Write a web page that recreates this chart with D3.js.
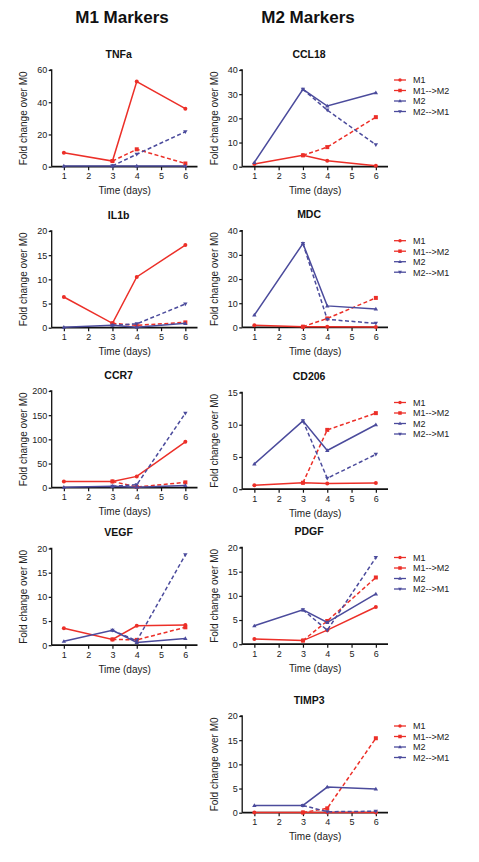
<!DOCTYPE html>
<html><head><meta charset="utf-8">
<script src="https://cdn.jsdelivr.net/npm/d3@7"></script>
<style>
html,body{margin:0;padding:0;background:#fff;}
svg{display:block;font-family:"Liberation Sans",Arial,Helvetica,sans-serif;}
</style></head>
<body><svg id="c" width="479" height="862"></svg>
<script>
// ---- data ----
const days = [1, 3, 4, 6];
const xTicks = [1, 2, 3, 4, 5, 6];
const seriesNames = ["M1", "M1-->M2", "M2", "M2-->M1"];
const columnTitles = ["M1 Markers", "M2 Markers"];

const tnfa_M1   = [8.7, 3.5, 52.8, 36.0];
const tnfa_M1M2 = [null, 3.5, 10.8, 2.0];
const tnfa_M2   = [0.4, 0.5, 0.5, 0.5];
const tnfa_M2M1 = [null, 0.5, 7.7, 21.7];
const tnfa_ticks = [0, 20, 40, 60];

const il1b_M1   = [6.35, 0.9, 10.5, 17.1];
const il1b_M1M2 = [null, 0.9, 0.5, 1.1];
const il1b_M2   = [0.1, 0.5, 0.1, 0.9];
const il1b_M2M1 = [null, 0.5, 0.8, 4.9];
const il1b_ticks = [0, 5, 10, 15, 20];

const ccr7_M1   = [13, 13, 23.4, 95];
const ccr7_M1M2 = [null, 13, 1.5, 11];
const ccr7_M2   = [1, 3, 1, 4.5];
const ccr7_M2M1 = [null, 3, 6, 154];
const ccr7_ticks = [0, 50, 100, 150, 200];

const vegf_M1   = [3.5, 1.2, 4.0, 4.2];
const vegf_M1M2 = [null, 1.2, 1.1, 3.7];
const vegf_M2   = [0.8, 3.1, 0.55, 1.4];
const vegf_M2M1 = [null, 3.1, 0.9, 18.7];
const vegf_ticks = [0, 5, 10, 15, 20];

const ccl18_M1   = [1.1, 4.7, 2.5, 0.4];
const ccl18_M1M2 = [null, 4.7, 8.1, 20.5];
const ccl18_M2   = [1.8, 32, 25.1, 30.6];
const ccl18_M2M1 = [null, 32, 23.4, 9.1];
const ccl18_ticks = [0, 10, 20, 30, 40];

const mdc_M1   = [0.9, 0.3, 0.3, 0.2];
const mdc_M1M2 = [null, 0.3, 3.7, 12.2];
const mdc_M2   = [5.1, 34.7, 8.9, 7.6];
const mdc_M2M1 = [null, 34.7, 3.3, 1.7];
const mdc_ticks = [0, 10, 20, 30, 40];

const cd206_M1   = [0.6, 1.0, 0.88, 0.97];
const cd206_M1M2 = [null, 1.0, 9.2, 11.8];
const cd206_M2   = [3.9, 10.6, 6.0, 10.0];
const cd206_M2M1 = [null, 10.6, 1.7, 5.4];
const cd206_ticks = [0, 5, 10, 15];

const pdgf_M1   = [1.1, 0.75, 2.9, 7.7];
const pdgf_M1M2 = [null, 0.75, 4.8, 13.8];
const pdgf_M2   = [3.8, 7.1, 4.5, 10.4];
const pdgf_M2M1 = [null, 7.1, 2.9, 17.9];
const pdgf_ticks = [0, 5, 10, 15, 20];

const timp3_M1   = [0.05, 0.05, 0.05, 0.05];
const timp3_M1M2 = [null, 0.05, 0.9, 15.4];
const timp3_M2   = [1.5, 1.5, 5.3, 4.9];
const timp3_M2M1 = [null, 1.5, 0.2, 0.3];
const timp3_ticks = [0, 5, 10, 15, 20];

// ---- layout ----
const RED = "#ec2f28", BLUE = "#4b4b9c";
const styles = [
  {color: RED, dash: null, marker: "circle"},
  {color: RED, dash: "4,2.5", marker: "square"},
  {color: BLUE, dash: null, marker: "tri"},
  {color: BLUE, dash: "4,2.5", marker: "triDown"}
];
const colX = [51.7, 242.2];
const plotW = 145.8, plotH = 96.7;

const panels = [
  {title: "TNFa", col: 0, top: 70, ticks: tnfa_ticks, s: [tnfa_M1, tnfa_M1M2, tnfa_M2, tnfa_M2M1], legend: false},
  {title: "IL1b", col: 0, top: 231, ticks: il1b_ticks, s: [il1b_M1, il1b_M1M2, il1b_M2, il1b_M2M1], legend: false},
  {title: "CCR7", col: 0, top: 391, ticks: ccr7_ticks, s: [ccr7_M1, ccr7_M1M2, ccr7_M2, ccr7_M2M1], legend: false},
  {title: "VEGF", col: 0, top: 548.5, ticks: vegf_ticks, s: [vegf_M1, vegf_M1M2, vegf_M2, vegf_M2M1], legend: false},
  {title: "CCL18", col: 1, top: 70, ticks: ccl18_ticks, s: [ccl18_M1, ccl18_M1M2, ccl18_M2, ccl18_M2M1], legend: true},
  {title: "MDC", col: 1, top: 230.7, ticks: mdc_ticks, s: [mdc_M1, mdc_M1M2, mdc_M2, mdc_M2M1], legend: true},
  {title: "CD206", col: 1, top: 392.5, ticks: cd206_ticks, s: [cd206_M1, cd206_M1M2, cd206_M2, cd206_M2M1], legend: true},
  {title: "PDGF", col: 1, top: 547.5, ticks: pdgf_ticks, s: [pdgf_M1, pdgf_M1M2, pdgf_M2, pdgf_M2M1], legend: true},
  {title: "TIMP3", col: 1, top: 716, ticks: timp3_ticks, s: [timp3_M1, timp3_M1M2, timp3_M2, timp3_M2M1], legend: true}
];

const svg = d3.select("#c");

// column headers
svg.selectAll("text.hdr").data(columnTitles).join("text")
  .attr("class", "hdr")
  .attr("x", (d, i) => [122, 308][i]).attr("y", 23)
  .attr("text-anchor", "middle").attr("font-weight", "bold")
  .attr("font-size", 17).attr("fill", "#111").text(d => d);

function marker(g, type, x, y, color, sz) {
  if (type === "circle") {
    g.append("circle").attr("cx", x).attr("cy", y).attr("r", sz * 0.5).attr("fill", color);
  } else if (type === "square") {
    g.append("rect").attr("x", x - sz * 0.5).attr("y", y - sz * 0.5).attr("width", sz).attr("height", sz).attr("fill", color);
  } else if (type === "tri") {
    const h = sz * 0.55;
    g.append("path").attr("d", `M${x},${y - h}L${x + h},${y + h * 0.7}L${x - h},${y + h * 0.7}Z`).attr("fill", color);
  } else {
    const h = sz * 0.55;
    g.append("path").attr("d", `M${x},${y + h}L${x + h},${y - h * 0.7}L${x - h},${y - h * 0.7}Z`).attr("fill", color);
  }
}

panels.forEach(p => {
  const left = colX[p.col];
  const x = d3.scaleLinear().domain([0.5, 6.5]).range([left, left + plotW]);
  const y = d3.scaleLinear().domain([0, d3.max(p.ticks)]).range([p.top + plotH, p.top]);
  const g = svg.append("g");

  // title
  g.append("text").attr("x", left + plotW / 2 - 6).attr("y", p.top - 12.5)
    .attr("text-anchor", "middle").attr("font-weight", "bold").attr("font-size", 10.5)
    .attr("fill", "#111").text(p.title);

  // y label
  const yl = left - 24.5;
  g.append("text").attr("transform", `translate(${yl},${p.top + plotH / 2}) rotate(-90)`)
    .attr("text-anchor", "middle").attr("font-size", 10).attr("fill", "#222")
    .text("Fold change over M0");

  // x label
  g.append("text").attr("x", x(3.5)).attr("y", p.top + plotH + 27.5)
    .attr("text-anchor", "middle").attr("font-size", 10).attr("fill", "#222")
    .text("Time (days)");

  // axes
  const ya = g.append("g").attr("transform", `translate(${left},0)`)
    .call(d3.axisLeft(y).tickValues(p.ticks).tickSize(3).tickPadding(1.5).tickFormat(d3.format("d")));
  const xa = g.append("g").attr("transform", `translate(0,${p.top + plotH})`)
    .call(d3.axisBottom(x).tickValues(xTicks).tickSize(3.5).tickPadding(2.5).tickFormat(d3.format("d")));
  [ya, xa].forEach(a => {
    a.select(".domain").attr("stroke", "#111").attr("stroke-width", 1.3);
    a.selectAll(".tick line").attr("stroke", "#111").attr("stroke-width", 1.2);
    a.selectAll(".tick text").attr("font-size", 9).attr("fill", "#222")
      .attr("font-family", "'Liberation Sans',Arial,sans-serif");
  });
  ya.select(".domain").attr("d", `M-2,${p.top}H0V${p.top + plotH}`);
  xa.select(".domain").attr("d", `M${left},0H${left + plotW}`).attr("stroke-width", 1.8);

  // series
  p.s.forEach((vals, si) => {
    const st = styles[si];
    const pts = days.map((d, i) => [d, vals[i]]).filter(d => d[1] !== null);
    const line = d3.line().x(d => x(d[0])).y(d => y(d[1]));
    g.append("path").attr("d", line(pts)).attr("fill", "none")
      .attr("stroke", st.color).attr("stroke-width", 1.5)
      .attr("stroke-dasharray", st.dash);
    pts.forEach(d => marker(g, st.marker, x(d[0]), y(d[1]), st.color, 4));
  });

  // legend
  if (p.legend) {
    const lx = 394, ly0 = p.top + 10;
    seriesNames.forEach((n, i) => {
      const st = styles[i];
      const yy = ly0 + i * 10.5;
      g.append("line").attr("x1", lx).attr("x2", lx + 12).attr("y1", yy).attr("y2", yy)
        .attr("stroke", st.color).attr("stroke-width", 1.3);
      marker(g, st.marker, lx + 6, yy, st.color, 3.5);
      g.append("text").attr("x", lx + 19).attr("y", yy + 3.3).attr("font-size", 9)
        .attr("fill", "#222").text(n);
    });
  }
});
</script></body></html>
